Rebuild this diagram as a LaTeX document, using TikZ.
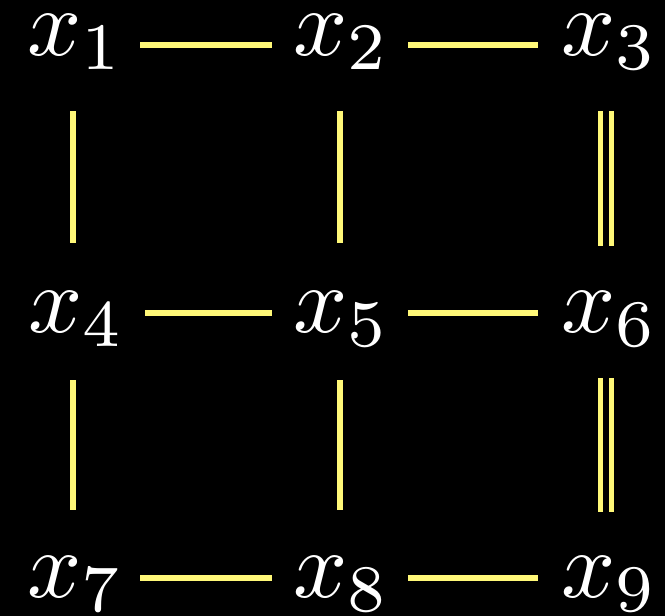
\RequirePackage{fix-cm}
\documentclass[tikz,border=0pt]{standalone}
\usepackage{graphicx}
\definecolor{lineyellow}{RGB}{255,248,120}
\newcommand{\bigvar}[1]{\scalebox{4.75}{$#1$}}
\begin{document}
\begin{tikzpicture}[x=0.5pt,y=-0.5pt,
  var/.style={text=white,inner sep=0pt,anchor=base},
  conn/.style={draw=lineyellow,line width=2.8pt},
  dconn/.style={draw=lineyellow,line width=2.6pt,double=black,double distance=3pt}]
\fill[black] (0,0) rectangle (665,616);
\useasboundingbox (0,0) rectangle (665,616);
% nodes
\node[var] (x1) at (75.5,55) {\bigvar{x_1}};
\node[var] (x2) at (341.5,55) {\bigvar{x_2}};
\node[var] (x3) at (609.5,55) {\bigvar{x_3}};
\node[var] (x4) at (76.5,332) {\bigvar{x_4}};
\node[var] (x5) at (341.5,332) {\bigvar{x_5}};
\node[var] (x6) at (609.5,332) {\bigvar{x_6}};
\node[var] (x7) at (75.5,597) {\bigvar{x_7}};
\node[var] (x8) at (341.5,597) {\bigvar{x_8}};
\node[var] (x9) at (609.5,597) {\bigvar{x_9}};
% horizontal connectors
\draw[conn] ([shift={(64.5,-10)}]x1.base) -- ([shift={(-69.5,-10)}]x2.base);
\draw[conn] ([shift={(66.5,-10)}]x2.base) -- ([shift={(-71.5,-10)}]x3.base);
\draw[conn] ([shift={(68.5,-19)}]x4.base) -- ([shift={(-69.5,-19)}]x5.base);
\draw[conn] ([shift={(66.5,-19)}]x5.base) -- ([shift={(-71.5,-19)}]x6.base);
\draw[conn] ([shift={(64.5,-19)}]x7.base) -- ([shift={(-69.5,-19)}]x8.base);
\draw[conn] ([shift={(66.5,-19)}]x8.base) -- ([shift={(-71.5,-19)}]x9.base);
% vertical connectors
\draw[conn] ([shift={(-2.5,56)}]x1.base) -- ([shift={(-3.5,-89)}]x4.base);
\draw[conn] ([shift={(-3.5,48)}]x4.base) -- ([shift={(-2.5,-87)}]x7.base);
\draw[conn] ([shift={(-1.5,56)}]x2.base) -- ([shift={(-1.5,-89)}]x5.base);
\draw[conn] ([shift={(-1.5,48)}]x5.base) -- ([shift={(-1.5,-87)}]x8.base);
\draw[dconn] ([shift={(-3.5,56)}]x3.base) -- ([shift={(-3.5,-86)}]x6.base);
\draw[dconn] ([shift={(-3.5,46)}]x6.base) -- ([shift={(-3.5,-85)}]x9.base);
\end{tikzpicture}
\end{document}
